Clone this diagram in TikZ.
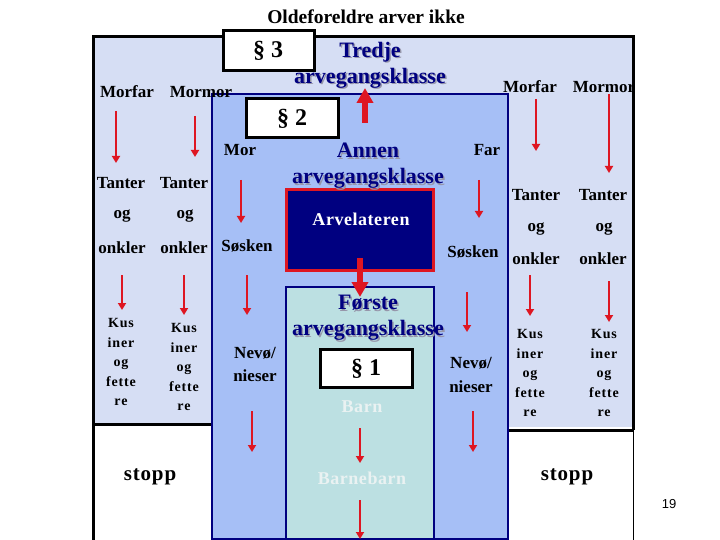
\documentclass[tikz,border=0pt]{standalone}
\usepackage{fontspec}
\setmainfont{Liberation Serif}
\newfontfamily\numfont{Liberation Sans}
\usetikzlibrary{arrows.meta}
\definecolor{lav}{RGB}{214,222,244}
\definecolor{blu}{RGB}{166,191,246}
\definecolor{teal2}{RGB}{188,224,226}
\definecolor{navy2}{RGB}{0,0,128}
\definecolor{red2}{RGB}{222,22,34}
\definecolor{pale}{RGB}{234,242,242}
\definecolor{shad}{RGB}{150,150,170}
\begin{document}
\begin{tikzpicture}[x=1pt,y=-1pt,
  every node/.style={inner sep=0pt},
  lbl/.style={font=\bfseries\fontsize{17}{17}\selectfont},
  kus/.style={font=\bfseries\fontsize{14}{19.5}\selectfont\addfontfeatures{LetterSpace=6}, align=center},
  cls/.style={font=\bfseries\fontsize{22}{26}\selectfont, text=navy2, align=center},
  clsshadow/.style={font=\bfseries\fontsize{22}{26}\selectfont, text=shad, align=center},
  para/.style={draw=black, fill=white, line width=3pt},
  parafont/.style={font=\bfseries\fontsize{24}{24}\selectfont},
  stoppfont/.style={font=\bfseries\fontsize{21}{21}\selectfont\addfontfeatures{LetterSpace=4}},
  thinarr/.style={draw=red2, line width=2.5pt, -{Triangle[length=7pt,width=8pt]}},
  thickarr/.style={draw=red2, line width=5.5pt, -{Triangle[length=15pt,width=16pt]}}]
\useasboundingbox (0,0) rectangle (720,540);

% third class (outer)
\fill[lav] (93,37) rectangle (633,427);
\fill[white] (95,424) rectangle (212,540);
\fill[white] (508,430) rectangle (633,540);
\draw[line width=3pt] (93,540) -- (93,37) -- (633,37) -- (633,430);
\draw[line width=1pt] (633,430) -- (633,540);
\draw[line width=3pt] (93,424) -- (212,424);
\draw[line width=3pt] (508,430) -- (633,430);

% second class
\draw[draw=navy2, fill=blu, line width=2.5pt] (212,94) rectangle (508,539);
% first class
\draw[draw=navy2, fill=teal2, line width=2.5pt] (286,287) rectangle (434,539);
% Arvelateren
\draw[draw=red2, fill=navy2, line width=3pt] (286,190) rectangle (433,270);
\node[font=\bfseries\fontsize{18}{18}\selectfont\addfontfeatures{LetterSpace=3}, text=white] (arv) at (361,219) {Arvelateren};

% paragraph boxes
\draw[para] (223,31) rectangle (314,71);
\node[parafont] (p3) at (268,51) {§ 3};
\draw[para] (246,99) rectangle (338,138);
\node[parafont] (p2) at (292,119) {§ 2};
\draw[para] (320,349) rectangle (412,387);
\node[parafont] (p1) at (366,369) {§ 1};

% title
\node[font=\bfseries\fontsize{19.5}{19.5}\selectfont] (title) at (366,17) {Oldeforeldre arver ikke};

% class labels with shadow
\node[clsshadow] at (371.5,66.5) {Tredje\\arvegangsklasse};
\node[cls] (tredje) at (370,65) {Tredje\\arvegangsklasse};
\node[clsshadow] at (369.5,167.5) {Annen\\arvegangsklasse};
\node[cls] (annen) at (368,166) {Annen\\arvegangsklasse};
\node[clsshadow] at (369.5,319.5) {Første\\arvegangsklasse};
\node[cls] (forste) at (368,318) {Første\\arvegangsklasse};

% left outer
\node[lbl] (morfarL) at (127,92) {Morfar};
\node[lbl] (mormorL) at (201,92) {Mormor};
\node[lbl] (tanterL1) at (121,183) {Tanter};
\node[lbl] (tanterL2) at (184,183) {Tanter};
\node[lbl] (ogL1) at (122,216) {og};
\node[lbl] (ogL2) at (185,216) {og};
\node[lbl] (onklerL1) at (122,248) {onkler};
\node[lbl] (onklerL2) at (184,248) {onkler};
\node[kus] (kusL1) at (121,362) {Kus\\iner\\og\\fette\\re};
\node[kus] (kusL2) at (184,367) {Kus\\iner\\og\\fette\\re};
\node[stoppfont] (stoppL) at (150,477) {stopp};

% second class inner
\node[lbl] (mor) at (240,150) {Mor};
\node[lbl] (soskenL) at (247,246) {Søsken};
\node[lbl, align=center, font=\bfseries\fontsize{17}{23}\selectfont] (nevoL) at (255,364) {Nevø/\\nieser};
\node[lbl] (far) at (487,150) {Far};
\node[lbl] (soskenR) at (473,252) {Søsken};
\node[lbl, align=center, font=\bfseries\fontsize{17}{24}\selectfont] (nevoR) at (471,375) {Nevø/\\nieser};

% first class inner
\node[font=\bfseries\fontsize{18}{18}\selectfont\addfontfeatures{LetterSpace=3}, text=pale] (barn) at (362,407) {Barn};
\node[font=\bfseries\fontsize{18}{18}\selectfont\addfontfeatures{LetterSpace=3}, text=pale] (barnebarn) at (362,478) {Barnebarn};

% right outer
\node[lbl] (morfarR) at (530,87) {Morfar};
\node[lbl] (mormorR) at (604,87) {Mormor};
\node[lbl] (tanterR1) at (536,195) {Tanter};
\node[lbl] (tanterR2) at (603,195) {Tanter};
\node[lbl] (ogR1) at (536,229) {og};
\node[lbl] (ogR2) at (604,229) {og};
\node[lbl] (onklerR1) at (536,259) {onkler};
\node[lbl] (onklerR2) at (603,259) {onkler};
\node[kus] (kusR1) at (530,373) {Kus\\iner\\og\\fette\\re};
\node[kus] (kusR2) at (604,373) {Kus\\iner\\og\\fette\\re};
\node[stoppfont] (stoppR) at (567,477) {stopp};

\node[font=\numfont\fontsize{13}{13}\selectfont] (pg) at (669,504) {19};

% thin arrows
\foreach \n/\x/\ya/\yb in {a/116/111/163, b/195/116/157, c/122/275/310, d/184/275/315,
  e/241/180/223, f/247/275/315, g/252/411/452, h/479/180/218, i/467/292/332,
  j/473/411/452, k/536/99/151, l/609/94/173, m/530/275/316, n/609/281/322,
  o/360/428/463, p/360/500/539}
{
  \coordinate (\n s) at (\x,\ya);
  \coordinate (\n e) at (\x,\yb);
  \draw[thinarr] (\n s) -- (\n e);
}

% thick arrows
\coordinate (upS) at (365,123);
\coordinate (upE) at (365,88);
\draw[thickarr] (upS) -- (upE);
\coordinate (dnS) at (360,258);
\coordinate (dnE) at (360,297);
\draw[thickarr] (dnS) -- (dnE);
\end{tikzpicture}
\end{document}
